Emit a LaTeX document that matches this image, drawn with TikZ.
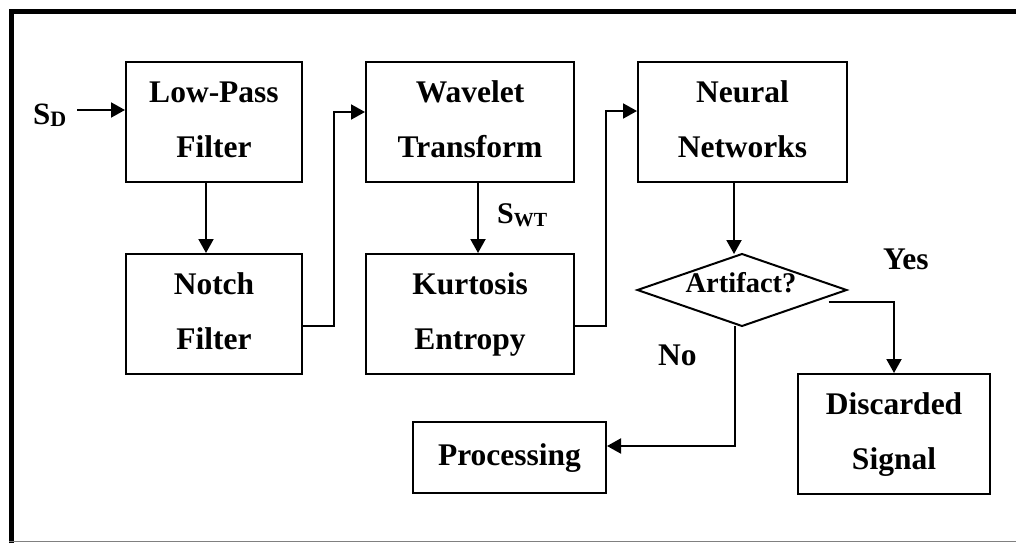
\documentclass[tikz,border=0pt]{standalone}
\usepackage{fontspec}
\setmainfont{Liberation Serif}
\usetikzlibrary{arrows.meta}
\newcommand\sline[1]{\rule[-7pt]{0pt}{29pt}#1}
\tikzset{
  blk/.style={draw, line width=2pt, inner sep=0pt, align=center,
    font=\fontsize{31.5}{55}\selectfont\bfseries},
  arr/.style={line width=2pt, -{Triangle[length=14pt,width=15pt]}},
  lbl/.style={inner sep=0pt, anchor=base west, font=\fontsize{31.5}{38}\selectfont\bfseries},
}
\begin{document}
\begin{tikzpicture}[x=1pt,y=-1pt]
\useasboundingbox (0,0) rectangle (1016,543);
% frame
\draw[line width=5.5pt] (11.5,543) -- (11.5,11.5) -- (1016,11.5);
\draw[gray, line width=1.5pt] (9,541.5) -- (1016,541.5);
% blocks
\node[blk, minimum width=176pt, minimum height=120pt] (lp) at (214,122) {\sline{Low-Pass}\\\sline{Filter}};
\node[blk, minimum width=176pt, minimum height=120pt] (notch) at (214,314) {\sline{Notch}\\\sline{Filter}};
\node[blk, minimum width=208pt, minimum height=120pt] (wt) at (470,122) {\sline{Wavelet}\\\sline{Transform}};
\node[blk, minimum width=208pt, minimum height=120pt] (kurt) at (470,314) {\sline{Kurtosis}\\\sline{Entropy}};
\node[blk, minimum width=209pt, minimum height=120pt] (nn) at (742.5,122) {\sline{Neural}\\\sline{Networks}};
% decision diamond
\coordinate (dc) at (742,290);
\coordinate (dtop) at (742,254);
\coordinate (dbot) at (742,326);
\coordinate (dleft) at (637.5,290);
\coordinate (dright) at (846.5,290);
\draw[line width=2pt, line join=miter] (dtop) -- (dright) -- (dbot) -- (dleft) -- cycle;
\node[inner sep=0pt, anchor=base, font=\fontsize{28.5}{34}\selectfont\bfseries] (dec) at (741,292) {Artifact?};
\node[blk, minimum width=193pt, minimum height=71pt] (proc) at (509.5,457.5) {\sline{Processing}};
\node[blk, minimum width=192pt, minimum height=120pt] (dis) at (894,434) {\sline{Discarded}\\\sline{Signal}};
% labels
\node[lbl, font=\fontsize{31}{34}\selectfont\bfseries] (sd) at (33,124) {S\raisebox{-2pt}{\fontsize{22}{26}\selectfont D}};
\node[lbl, font=\fontsize{30}{34}\selectfont\bfseries] (swt) at (497,223) {S\raisebox{-3pt}{\fontsize{20}{24}\selectfont WT}};
\node[lbl] (yes) at (883,269) {Yes};
\node[lbl] (no) at (658,365) {No};
% connectors
\draw[arr] (77,110) -- (lp.west |- 0,110);
\draw[arr] (lp.south -| 206,0) -- (notch.north -| 206,0);
\draw[arr] (notch.east |- 0,326) -- (334,326) -- (334,112) -- (wt.west |- 0,112);
\draw[arr] (wt.south -| 478,0) -- (kurt.north -| 478,0);
\draw[arr] (kurt.east |- 0,326) -- (606,326) -- (606,111) -- (nn.west |- 0,111);
\draw[arr] (nn.south -| 734,0) -- (dtop -| 734,0);
\draw[arr] ([shift={(-18pt,-12pt)}]dright) -| (dis.north);
\draw[arr] (dbot -| 735,0) |- (proc.east |- 0,446);
\end{tikzpicture}
\end{document}
